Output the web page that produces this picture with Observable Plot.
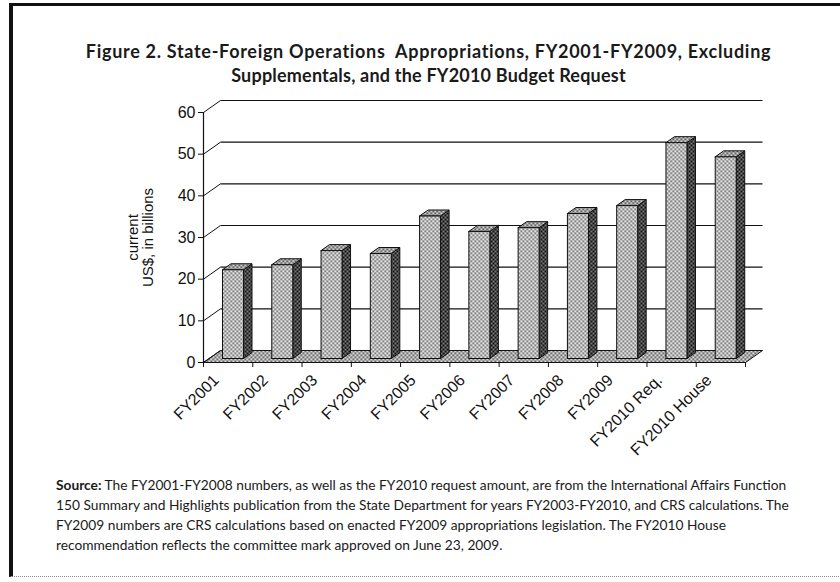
<!DOCTYPE html>
<html><head><meta charset="utf-8">
<script src="https://cdn.jsdelivr.net/npm/d3@7"></script>
<script src="https://cdn.jsdelivr.net/npm/@observablehq/plot@0.6"></script>
<style>
body{margin:0;background:#fff;width:840px;height:582px;overflow:hidden;position:relative;font-family:"Liberation Sans",Arial,sans-serif;}
#frame{position:absolute;left:9px;top:3px;width:840px;height:570px;border-top:3px solid #111;border-left:4px solid #111;border-bottom:1px dotted #888;}
#title{position:absolute;left:0;width:857px;top:39px;text-align:center;font-family:Lato,sans-serif;font-weight:700;font-size:18px;line-height:24px;color:#1a1a1a;white-space:pre;}
#title .l1{letter-spacing:0.7px;}
#title .l2{letter-spacing:0.2px;}
#chart{position:absolute;left:0;top:90px;}
#source{position:absolute;left:56px;top:475px;font-family:Lato,sans-serif;font-size:13.75px;line-height:20px;color:#1a1a1a;white-space:pre;}
</style></head><body>
<div id="frame"></div>
<div id="title"></div>
<div id="chart"></div>
<div id="source"></div>
<script>
const titleLines = ["Figure 2. State-Foreign Operations  Appropriations, FY2001-FY2009, Excluding", "Supplementals, and the FY2010 Budget Request"];
const categories = ["FY2001","FY2002","FY2003","FY2004","FY2005","FY2006","FY2007","FY2008","FY2009","FY2010 Req.","FY2010 House"];
const values = [21.3, 22.5, 25.9, 25.2, 34.2, 30.5, 31.4, 34.8, 36.7, 51.8, 48.4];
const yTicks = [0, 10, 20, 30, 40, 50, 60];
const yTitle = ["current", "US$, in billions"];
const sourceLabel = "Source:";
const sourceLines = [
  " The FY2001-FY2008 numbers, as well as the FY2010 request amount, are from the International Affairs Function",
  "150 Summary and Highlights publication from the State Department for years FY2003-FY2010, and CRS calculations. The",
  "FY2009 numbers are CRS calculations based on enacted FY2009 appropriations legislation. The FY2010 House",
  "recommendation reflects the committee mark approved on June 23, 2009."
];

const ttl = document.getElementById("title");
titleLines.forEach((t, i) => {
  const d = document.createElement("div"); d.className = "l" + (i + 1); d.textContent = t; ttl.appendChild(d);
});
const src = document.getElementById("source");
sourceLines.forEach((line, i) => {
  const div = document.createElement("div");
  if (i === 0) {
    const bEl = document.createElement("b"); bEl.textContent = sourceLabel; div.appendChild(bEl);
  }
  const sp = document.createElement("span"); sp.textContent = line; div.appendChild(sp);
  src.appendChild(div);
});

// layout
const W = 840, H = 380, mL = 203, mR = 95, mT = 22, mB = 108;
const n = categories.length;
const yMax = yTicks[yTicks.length - 1];
const kx = n / (W - mL - mR);      // data units per px (x)
const ky = yMax / (H - mT - mB);   // data units per px (y)
// 3D depth styling (pixels)
const wallDX = 17, wallDY = 12;
const barOff = 19, barW = 21, barLift = 4, barDX = 8.5, barDY = 6;

const floorPts = [[0,0],[n,0],[n+wallDX*kx, wallDY*ky],[wallDX*kx, wallDY*ky],[0,0]].map(([x,y]) => ({x, y}));
const grid = yTicks.map(t => ({t}));

const frontFaces = [], sideFaces = [], topFaces = [];
values.forEach((v, i) => {
  const x1 = i + barOff*kx, x2 = i + (barOff+barW)*kx;
  const y0 = barLift*ky, y1 = v + barLift*ky;
  const ddx = barDX*kx, ddy = barDY*ky;
  const id = categories[i];
  [[x1,y0],[x2,y0],[x2,y1],[x1,y1],[x1,y0]].forEach(([x,y]) => frontFaces.push({id, x, y}));
  [[x2,y0],[x2+ddx,y0+ddy],[x2+ddx,y1+ddy],[x2,y1],[x2,y0]].forEach(([x,y]) => sideFaces.push({id, x, y}));
  [[x1,y1],[x2,y1],[x2+ddx,y1+ddy],[x1+ddx,y1+ddy],[x1,y1]].forEach(([x,y]) => topFaces.push({id, x, y}));
});
const labels = categories.map((c, i) => ({c, xc: i + 0.5}));

const svg = Plot.plot({
  width: W, height: H,
  marginLeft: mL, marginRight: mR, marginTop: mT, marginBottom: mB,
  style: {fontFamily: "'Liberation Sans', Arial, sans-serif", fontSize: "16px", color: "#111", background: "transparent"},
  x: {type: "linear", domain: [0, n], axis: null},
  y: {domain: [0, yMax], ticks: yTicks, tickSize: 5, tickPadding: 3, label: null, tickFormat: d => String(d)},
  marks: [
    Plot.line(floorPts, {x: "x", y: "y", fill: "url(#pFloor)", stroke: "#111", strokeWidth: 1}),
    Plot.link(grid, {x1: 0, y1: d => d.t, x2: wallDX*kx, y2: d => d.t + wallDY*ky, stroke: "#111", strokeWidth: 1}),
    Plot.link(grid.filter(d => d.t > 0), {x1: wallDX*kx, y1: d => d.t + wallDY*ky, x2: n + wallDX*kx, y2: d => d.t + wallDY*ky, stroke: "#111", strokeWidth: 1.2}),
    Plot.ruleX([0], {y1: 0, y2: yMax, stroke: "#111", strokeWidth: 1.2}),
    Plot.ruleX(d3.range(n + 1), {x: d => d, y1: 0, y2: -5*ky, stroke: "#111"}),
    Plot.line(sideFaces, {x: "x", y: "y", z: "id", fill: "url(#pSide)", stroke: "#111", strokeWidth: 1}),
    Plot.line(topFaces, {x: "x", y: "y", z: "id", fill: "url(#pTop)", stroke: "#111", strokeWidth: 1}),
    Plot.line(frontFaces, {x: "x", y: "y", z: "id", fill: "url(#pFront)", stroke: "#111", strokeWidth: 1}),
    Plot.text(labels, {x: "xc", y: 0, text: "c", rotate: -45, textAnchor: "end", dx: -12, dy: 15, fontSize: 16, fill: "#111"}),
    Plot.text([yTitle.join("\n")], {frameAnchor: "left", dx: -63, rotate: -90, text: d => d, textAnchor: "middle", lineAnchor: "middle", lineHeight: 1.0, fontSize: 15, fill: "#111"})
  ]
});

// patterns
const defs = d3.select(svg).insert("defs", ":first-child");
function pat(id, bg, fg, s) {
  const p = defs.append("pattern").attr("id", id).attr("patternUnits", "userSpaceOnUse").attr("width", 4).attr("height", 4);
  p.append("rect").attr("width", 4).attr("height", 4).attr("fill", bg);
  p.append("rect").attr("x", 0).attr("y", 0).attr("width", s).attr("height", s).attr("fill", fg);
  p.append("rect").attr("x", 2).attr("y", 2).attr("width", s).attr("height", s).attr("fill", fg);
}
pat("pFront", "#e4e4e4", "#3a3a3a", 1.5);
pat("pTop", "#cfcfcf", "#2a2a2a", 1.6);
pat("pSide", "#7a7a7a", "#111", 2);
pat("pFloor", "#d9d9d9", "#333", 1.6);

document.getElementById("chart").appendChild(svg);
</script>
</body></html>
